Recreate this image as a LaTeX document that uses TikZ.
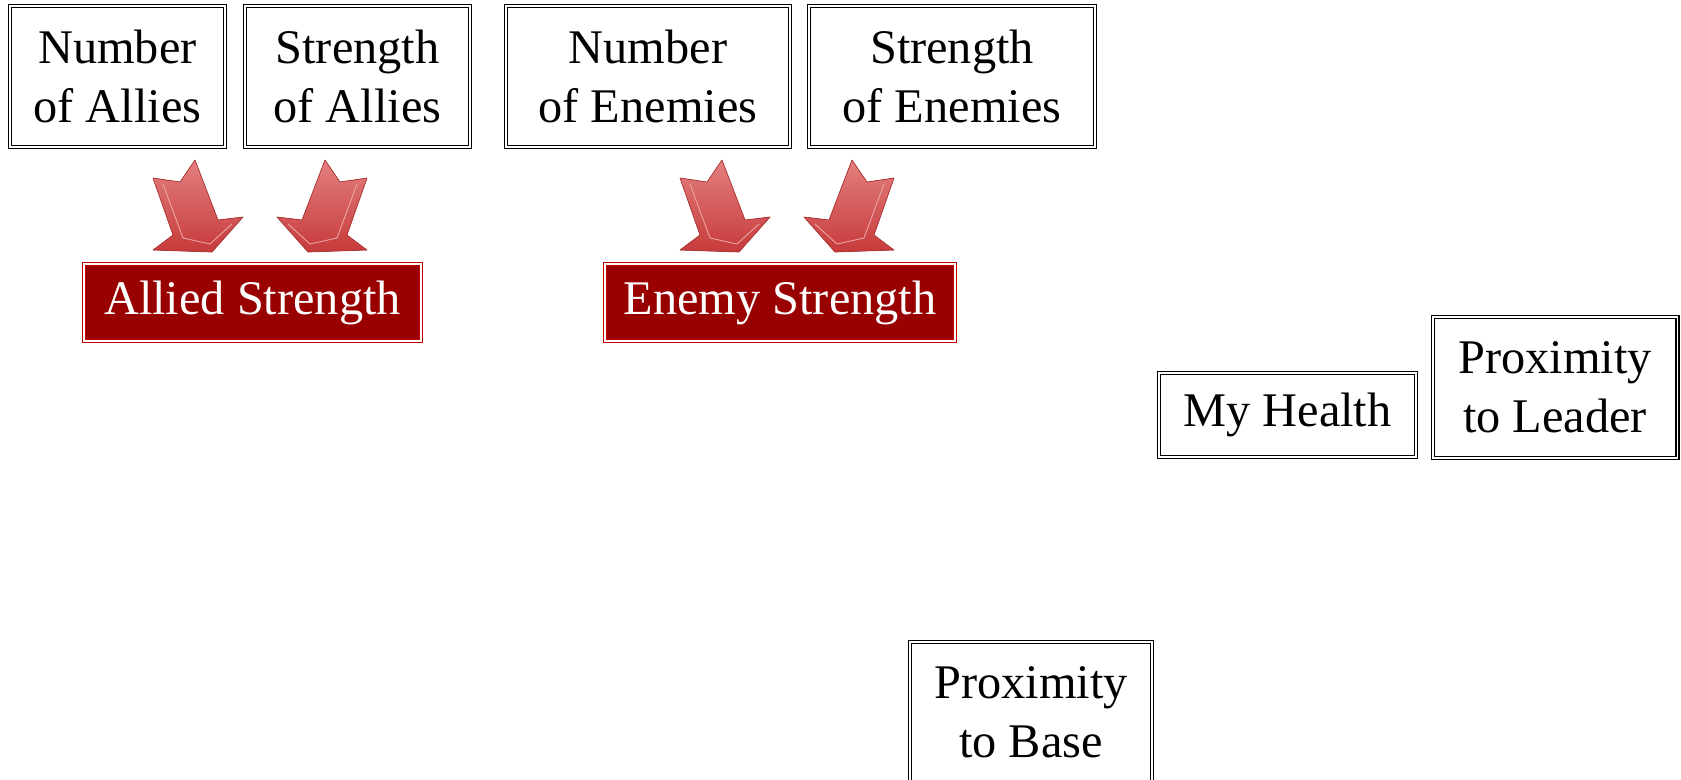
\documentclass[tikz,border=0pt]{standalone}
\usepackage{fontspec}
\setmainfont{Liberation Serif}

\definecolor{boxred}{HTML}{990000}
\definecolor{rimred}{HTML}{C00000}
\definecolor{arrowtop}{HTML}{E38080}
\definecolor{arrowbot}{HTML}{C73A3A}
\definecolor{arrowrim}{HTML}{B03535}

\tikzset{
  factor/.style={draw, double, double distance=1.1pt, line width=0.6pt,
    align=center, inner sep=0pt, font=\fontsize{27.5}{33.5}\selectfont},
  summary/.style={draw=rimred, double=white, double distance=1.3pt, line width=0.4pt,
    fill=boxred, text=white, inner sep=0pt, font=\fontsize{27.5}{33.5}\selectfont},
  blockarrow/.style={top color=arrowtop, bottom color=arrowbot, draw=arrowrim,
    line width=0.4pt, line join=round},
  bevel/.style={draw=arrowtop!70!white, line width=0.5pt}
}

\begin{document}
\begin{tikzpicture}[x=0.02cm, y=-0.02cm]

  \useasboundingbox (0,0) rectangle (1681,779);

  % inputs
  \node[factor, minimum width=4.3cm, minimum height=2.82cm] (numallies) at (117.5,76.5) {Number\\of Allies};
  \node[factor, minimum width=4.5cm, minimum height=2.82cm] (strallies) at (357.5,76.5) {Strength\\of Allies};
  \node[factor, minimum width=5.68cm, minimum height=2.82cm] (numenemies) at (648,76.5) {Number\\of Enemies};
  \node[factor, minimum width=5.72cm, minimum height=2.82cm] (strenemies) at (952,76.5) {Strength\\of Enemies};
  \node[factor, minimum width=5.14cm, minimum height=1.68cm] (health) at (1287.5,415) {My Health};
  \node[factor, minimum width=4.9cm, minimum height=2.82cm] (leader) at (1555,387.5) {Proximity\\to Leader};
  \node[factor, minimum width=4.84cm, minimum height=2.82cm] (base) at (1031,712.5) {Proximity\\to Base};

  % summaries
  \node[summary, minimum width=6.74cm, minimum height=1.54cm] (allied) at (252.5,302.5) {Allied Strength};
  \node[summary, minimum width=7cm, minimum height=1.54cm] (enemy) at (780,302.5) {Enemy Strength};

  % arrows
  \foreach \dx in {0,527} {
    \filldraw[blockarrow] ({153+\dx},178) -- ({180+\dx},182) -- ({195+\dx},160) -- ({218+\dx},220)
      -- ({243+\dx},217) -- ({212+\dx},252) -- ({153+\dx},250) -- ({173+\dx},235) -- cycle;
    \draw[bevel] ({163+\dx},184) -- ({183+\dx},238) -- ({210+\dx},244) -- ({232+\dx},224);
    \filldraw[blockarrow] ({367+\dx},178) -- ({340+\dx},182) -- ({325+\dx},160) -- ({302+\dx},220)
      -- ({277+\dx},217) -- ({308+\dx},252) -- ({367+\dx},250) -- ({347+\dx},235) -- cycle;
    \draw[bevel] ({357+\dx},184) -- ({337+\dx},238) -- ({310+\dx},244) -- ({288+\dx},224);
  }

\end{tikzpicture}
\end{document}
